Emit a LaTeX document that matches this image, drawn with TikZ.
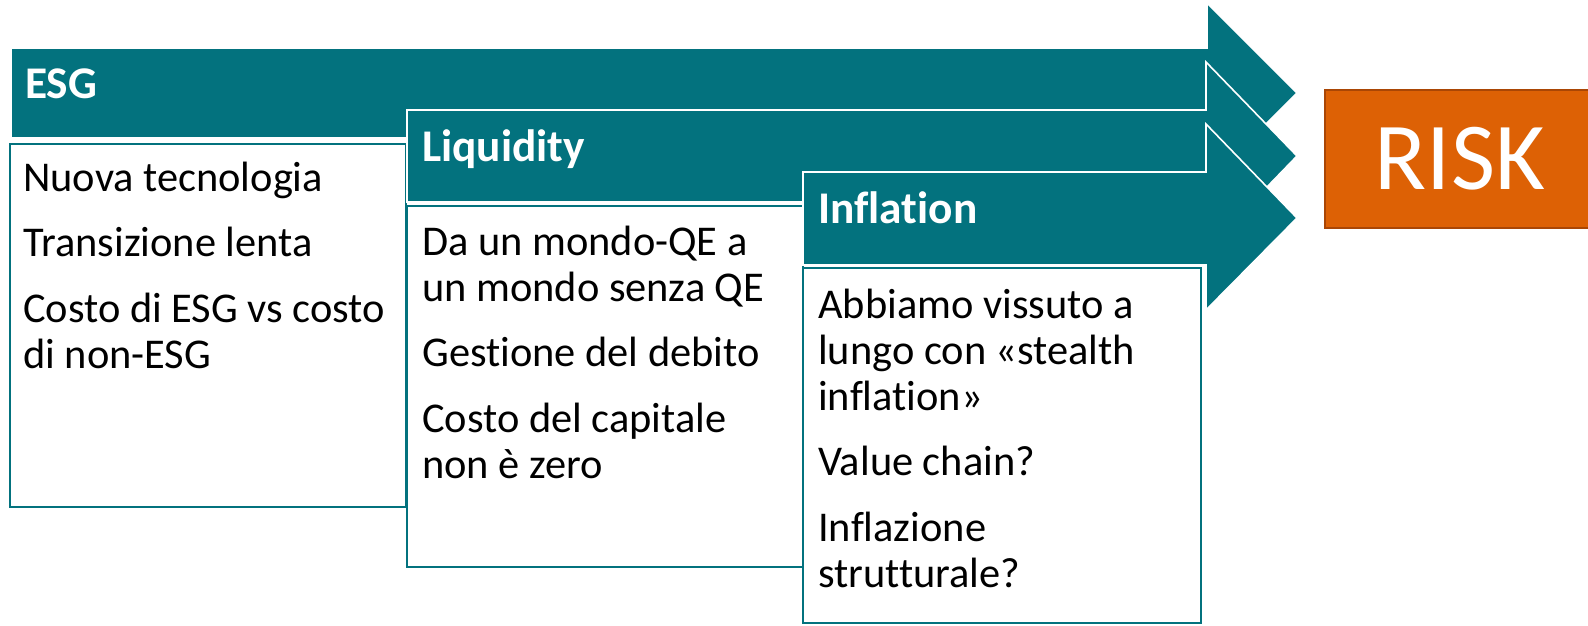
\documentclass[tikz,border=0pt]{standalone}
\usepackage{fontspec}
\setmainfont{Carlito}[Ligatures=NoCommon]
\definecolor{tealarrow}{RGB}{3,114,126}
\definecolor{riskorange}{RGB}{221,97,5}
\definecolor{riskedge}{RGB}{170,70,5}
\tikzset{
  arrowshape/.style={fill=tealarrow,draw=white,line width=1.2pt},
  listbox/.style={fill=white,draw=tealarrow,line width=1.5pt},
  header/.style={anchor=base west,inner sep=0pt,text=white,font=\fontsize{34}{38}\selectfont\bfseries},
  bodytext/.style={anchor=base west,inner sep=0pt,align=left,font=\fontsize{31.8}{34.5}\selectfont}
}
\begin{document}
\begin{tikzpicture}[x=0.75pt,y=-0.75pt]
\useasboundingbox (0,0) rectangle (1588,625);
\draw[arrowshape](11,48)--(1207,48)--(1207,3)--(1297,93)--(1207,183)--(1207,138)--(11,138)--cycle;
\draw[listbox](9.5,144) rectangle (406,507);
\draw[arrowshape](407,110)--(1206,110)--(1206,62)--(1297,156)--(1206,250)--(1206,202)--(407,202)--cycle;
\draw[listbox](407,206) rectangle (803,567);
\draw[arrowshape](803,172)--(1206,172)--(1206,124)--(1297,218)--(1206,310)--(1206,265)--(803,265)--cycle;
\draw[listbox](803,268) rectangle (1201,623);
\node[header] (esg) at (25,98) {ESG};
\node[header] (liquidity) at (422,161) {Liquidity};
\node[header] (inflation) at (818,223) {Inflation};
\node[bodytext] (esgbody) at (23,368) {Nuova tecnologia\\[14.5pt]Transizione lenta\\[14.5pt]Costo di ESG vs costo\\di non-ESG};
\node[bodytext] (liqbody) at (422,478) {Da un mondo-QE a\\un mondo senza QE\\[14.5pt]Gestione del debito\\[14.5pt]Costo del capitale\\non è zero};
\node[bodytext] (inflbody) at (818,587) {Abbiamo vissuto a\\lungo con «stealth\\inflation»\\[14.5pt]Value chain?\\[14.5pt]Inflazione\\strutturale?};
\node[fill=riskorange,draw=riskedge,line width=1.5pt,minimum width=270*0.75pt,minimum height=138*0.75pt,text=white,font=\fontsize{72}{80}\selectfont] (risk) at (1460,159) {RISK};
\end{tikzpicture}
\end{document}
